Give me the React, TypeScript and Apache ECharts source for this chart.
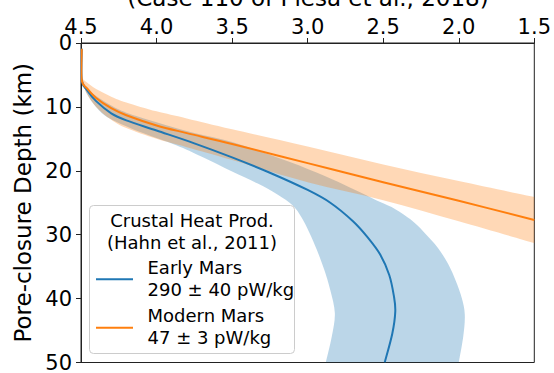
import React, { useEffect, useRef } from "react";
import * as echarts from "echarts";

const FONT = "DejaVu Sans";

// X axis: age (Ga), reversed; Y axis: pore-closure depth (km), downward
const xTickValues = [4.5, 4.0, 3.5, 3.0, 2.5, 2.0, 1.5];
const yTickValues = [0, 10, 20, 30, 40, 50];

// Modern Mars (47 ± 3 pW/kg) central curve
const modernLineAge = [4.495, 4.495, 4.46, 4.4, 4.3, 4.2, 4.0, 3.8, 3.5, 3.0, 2.5, 2.0, 1.5];
const modernLineDepth = [0.9, 5.8, 7.1, 8.6, 10.2, 11.3, 12.9, 14.1, 15.8, 18.8, 21.8, 24.7, 27.7];
// Modern Mars band edges
const modernUpperAge = [4.495, 4.46, 4.4, 4.3, 4.2, 4.0, 3.8, 3.5, 3.0, 2.5, 2.0, 1.5];
const modernUpperDepth = [5.5, 6.2, 7.2, 8.4, 9.3, 10.7, 11.8, 13.5, 16.2, 19.0, 21.6, 24.1];
const modernLowerAge = [4.495, 4.46, 4.4, 4.3, 4.2, 4.0, 3.8, 3.5, 3.0, 2.5, 2.0, 1.5];
const modernLowerDepth = [5.9, 8.0, 10.0, 12.0, 13.3, 15.0, 16.3, 18.3, 21.8, 24.6, 27.9, 31.3];

// Early Mars (290 ± 40 pW/kg) central curve
const earlyLineAge = [4.495, 4.495, 4.46, 4.4, 4.3, 4.2, 4.0, 3.75, 3.5, 3.25, 3.0, 2.85, 2.7, 2.6, 2.52, 2.46, 2.43, 2.42, 2.44, 2.49];
const earlyLineDepth = [0.9, 5.8, 7.4, 9.1, 11.0, 12.1, 13.7, 15.7, 17.9, 20.3, 23.0, 25.0, 27.9, 30.5, 33.1, 36.3, 39.5, 42.0, 45.5, 50];
// Early Mars band edges
const earlyUpperAge = [4.495, 4.46, 4.4, 4.3, 4.2, 4.0, 3.75, 3.5, 3.25, 3.0, 2.8, 2.65, 2.52, 2.42, 2.32, 2.23, 2.14, 2.07, 2.02, 1.98, 1.96, 1.97, 2.0];
const earlyUpperDepth = [5.8, 7.0, 8.3, 9.8, 10.9, 12.4, 14.1, 15.5, 17.5, 19.7, 21.7, 23.4, 24.9, 26.0, 27.6, 29.6, 32.0, 34.6, 37.2, 39.9, 42.5, 45.9, 50];
const earlyLowerAge = [4.495, 4.46, 4.4, 4.31, 4.09, 3.87, 3.7, 3.5, 3.33, 3.2, 3.1, 3.04, 2.99, 2.94, 2.89, 2.85, 2.82, 2.84, 2.88];
const earlyLowerDepth = [5.8, 8.0, 10.0, 11.8, 14.1, 16.0, 17.8, 20.1, 22.0, 23.7, 25.4, 27.3, 29.6, 32.3, 35.5, 38.7, 42.3, 45.9, 50];

const BLUE = "#1f77b4";
const ORANGE = "#ff7f0e";

// Catmull-Rom smoothing of projected pixel points into SVG cubic segments
const curveSegments = (pts: number[][]) => {
  let d = "";
  for (let i = 0; i < pts.length - 1; i++) {
    const p0 = pts[i - 1] || pts[i];
    const p1 = pts[i];
    const p2 = pts[i + 1];
    const p3 = pts[i + 2] || p2;
    const c1x = p1[0] + (p2[0] - p0[0]) / 6;
    const c1y = p1[1] + (p2[1] - p0[1]) / 6;
    const c2x = p2[0] - (p3[0] - p1[0]) / 6;
    const c2y = p2[1] - (p3[1] - p1[1]) / 6;
    d += ` C ${c1x} ${c1y} ${c2x} ${c2y} ${p2[0]} ${p2[1]}`;
  }
  return d;
};

const bandSeries = (
  upA: number[],
  upD: number[],
  loA: number[],
  loD: number[],
  fill: string
) => ({
  type: "custom",
  silent: true,
  clip: true,
  data: [[upA[0], upD[0]]],
  renderItem: (_params: any, api: any) => {
    const up = upA.map((a, i) => api.coord([a, upD[i]]));
    const lo = loA.map((a, i) => api.coord([a, loD[i]])).reverse();
    const d =
      `M ${up[0][0]} ${up[0][1]}` +
      curveSegments(up) +
      ` L ${lo[0][0]} ${lo[0][1]}` +
      curveSegments(lo) +
      " Z";
    return {
      type: "path",
      shape: { pathData: d },
      style: { fill, stroke: "none" },
    };
  },
});

const curveSeries = (age: number[], depth: number[], color: string) => ({
  type: "custom",
  silent: true,
  clip: true,
  data: [[age[0], depth[0]]],
  renderItem: (_params: any, api: any) => {
    const pts = age.map((a, i) => api.coord([a, depth[i]]));
    const d = `M ${pts[0][0]} ${pts[0][1]}` + curveSegments(pts);
    return {
      type: "path",
      shape: { pathData: d },
      style: { fill: "none", stroke: color, lineWidth: 2 },
    };
  },
});

export default function App() {
  const ref = useRef<HTMLDivElement>(null);
  useEffect(() => {
    const chart = echarts.init(ref.current!, null, { renderer: "svg" });
    const legendX = 89.5;
    const legendY = 205.5;
    const txt = (text: string, x: number, y: number, align: string) => ({
      type: "text",
      z: 101,
      x,
      y,
      style: { text, fontSize: 18, fontFamily: FONT, fill: "#000", align, verticalAlign: "middle" },
    });
    const option: any = {
      animation: false,
      backgroundColor: "#ffffff",
      textStyle: { fontFamily: FONT },
      grid: {
        left: 81,
        right: 19,
        top: 43,
        bottom: 10,
        show: true,
        borderColor: "#222",
        borderWidth: 1,
        backgroundColor: "transparent",
      },
      xAxis: {
        type: "value",
        position: "top",
        inverse: true,
        min: 1.5,
        max: 4.5,
        interval: 0.5,
        axisLine: { show: true, lineStyle: { color: "#222", width: 1 } },
        axisTick: { show: true, length: 5, lineStyle: { color: "#222" } },
        splitLine: { show: false },
        axisLabel: {
          fontSize: 21,
          fontFamily: FONT,
          color: "#000",
          margin: 6,
          formatter: (v: number) => (xTickValues.includes(v) ? v.toFixed(1) : ""),
        },
      },
      yAxis: {
        type: "value",
        inverse: true,
        min: 0,
        max: 50,
        interval: 10,
        name: "Pore-closure Depth (km)",
        nameLocation: "middle",
        nameRotate: 90,
        nameGap: 46,
        nameTextStyle: { fontSize: 23, fontFamily: FONT, fontWeight: "normal", color: "#000" },
        axisLine: { show: true, lineStyle: { color: "#222", width: 1 } },
        axisTick: { show: true, length: 5, lineStyle: { color: "#222" } },
        splitLine: { show: false },
        axisLabel: {
          fontSize: 21,
          fontFamily: FONT,
          color: "#000",
          margin: 9,
          formatter: (v: number) => (yTickValues.includes(v) ? String(v) : ""),
        },
      },
      series: [
        bandSeries(earlyUpperAge, earlyUpperDepth, earlyLowerAge, earlyLowerDepth, "rgba(31,119,180,0.3)"),
        bandSeries(modernUpperAge, modernUpperDepth, modernLowerAge, modernLowerDepth, "rgba(255,127,14,0.3)"),
        curveSeries(earlyLineAge, earlyLineDepth, BLUE),
        curveSeries(modernLineAge, modernLineDepth, ORANGE),
      ],
      graphic: [
        {
          type: "text",
          x: 308,
          y: -2.5,
          z: 100,
          style: {
            text: "(Case 110 of Plesa et al., 2018)",
            fontSize: 23,
            fontFamily: FONT,
            fill: "#000",
            align: "center",
            verticalAlign: "middle",
          },
        },
        {
          type: "rect",
          z: 100,
          shape: { x: legendX, y: legendY, width: 205, height: 148, r: 4 },
          style: { fill: "rgba(255,255,255,0.8)", stroke: "#cccccc", lineWidth: 1 },
        },
        txt("Crustal Heat Prod.", 192, 220.7, "center"),
        txt("(Hahn et al., 2011)", 192, 242, "center"),
        {
          type: "line",
          z: 101,
          shape: { x1: 96, y1: 279.3, x2: 133, y2: 279.3 },
          style: { stroke: BLUE, lineWidth: 2 },
        },
        txt("Early Mars", 147.5, 267.5, "left"),
        txt("290 ± 40 pW/kg", 147.5, 289, "left"),
        {
          type: "line",
          z: 101,
          shape: { x1: 96, y1: 327.7, x2: 133, y2: 327.7 },
          style: { stroke: ORANGE, lineWidth: 2 },
        },
        txt("Modern Mars", 147.5, 315.8, "left"),
        txt("47 ± 3 pW/kg", 147.5, 337, "left"),
      ],
    };
    chart.setOption(option);
    return () => chart.dispose();
  }, []);
  return (
    <div
      ref={ref}
      style={{ position: "fixed", left: 0, top: 0, width: 554, height: 373 }}
    />
  );
}
